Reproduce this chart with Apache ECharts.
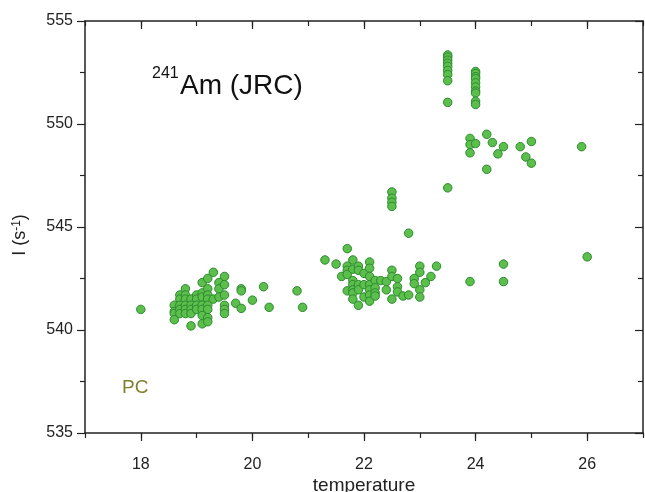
<!DOCTYPE html>
<html>
<head>
<meta charset="utf-8">
<script src="https://cdn.jsdelivr.net/npm/echarts@6/dist/echarts.min.js"></script>
<style>
  html, body { margin: 0; padding: 0; background: #fff; }
  #chart { width: 645px; height: 492px; }
</style>
</head>
<body>
<div id="chart"></div>
<script>
// tick labels of the temperature axis (one per integer, only even ones are shown)
const tempTicks = ['17', '18', '19', '20', '21', '22', '23', '24', '25', '26', '27']

// low temperature cluster (18 - 21)
const groupLow = [
  [18.0, 541.0],
  [18.6, 541.2], [18.6, 540.9], [18.6, 540.8], [18.6, 540.5],
  [18.7, 541.7], [18.7, 541.5], [18.7, 541.2], [18.7, 541.0], [18.7, 540.8],
  [18.8, 542.0], [18.8, 541.7], [18.8, 541.5], [18.8, 541.2], [18.8, 541.0], [18.8, 540.8],
  [18.9, 541.5], [18.9, 541.2], [18.9, 541.0], [18.9, 540.8], [18.9, 540.2],
  [19.0, 541.7], [19.0, 541.5], [19.0, 541.2], [19.0, 541.0],
  [19.1, 542.3], [19.1, 541.8], [19.1, 541.6], [19.1, 541.2], [19.1, 541.0], [19.1, 540.7], [19.1, 540.3],
  [19.2, 542.5], [19.2, 542.0], [19.2, 541.7], [19.2, 541.5], [19.2, 541.2], [19.2, 541.0], [19.2, 540.6], [19.2, 540.4],
  [19.3, 542.8], [19.3, 541.5],
  [19.4, 542.3], [19.4, 542.0], [19.4, 541.6],
  [19.5, 542.6], [19.5, 542.2], [19.5, 541.7], [19.5, 541.2], [19.5, 541.0], [19.5, 540.8],
  [19.7, 541.3], [19.8, 542.0], [19.8, 541.9], [19.8, 541.05],
  [20.0, 541.45], [20.2, 542.1], [20.3, 541.1], [20.8, 541.9], [20.9, 541.1]
]

// middle cluster (21 - 23.3)
const groupMid = [
  [21.3, 543.4], [21.5, 543.2], [21.6, 542.6],
  [21.7, 543.95], [21.7, 543.1], [21.7, 542.9], [21.7, 542.7], [21.7, 541.9],
  [21.8, 543.4], [21.8, 542.95], [21.8, 542.4], [21.8, 542.2], [21.8, 541.95], [21.8, 541.8], [21.8, 541.5],
  [21.9, 543.1], [21.9, 542.9], [21.9, 542.2], [21.9, 541.95], [21.9, 541.2],
  [22.0, 542.75], [22.0, 542.2], [22.0, 541.6],
  [22.1, 543.3], [22.1, 543.0], [22.1, 542.6], [22.1, 542.2], [22.1, 541.95], [22.1, 541.7], [22.1, 541.4],
  [22.2, 542.4], [22.2, 542.05], [22.2, 541.8], [22.2, 541.65],
  [22.3, 542.4], [22.4, 542.35], [22.4, 541.95],
  [22.5, 546.7], [22.5, 546.4], [22.5, 546.2], [22.5, 546.0],
  [22.5, 542.9], [22.5, 542.6], [22.5, 541.5],
  [22.6, 542.5], [22.6, 542.1], [22.6, 541.85],
  [22.7, 541.65], [22.8, 541.7], [22.8, 544.7],
  [22.9, 542.5], [22.9, 542.25],
  [23.0, 543.1], [23.0, 542.8], [23.0, 541.95], [23.0, 541.6],
  [23.1, 542.3], [23.2, 542.6], [23.3, 543.1]
]

// high temperature points (23.5 and above)
const groupHigh = [
  [23.5, 553.35], [23.5, 553.25], [23.5, 553.1], [23.5, 552.95], [23.5, 552.8],
  [23.5, 552.6], [23.5, 552.4], [23.5, 552.1], [23.5, 551.05], [23.5, 546.9],
  [24.0, 552.55], [24.0, 552.45], [24.0, 552.3], [24.0, 552.2], [24.0, 552.0],
  [24.0, 551.8], [24.0, 551.6], [24.0, 551.5], [24.0, 551.1], [24.0, 550.95],
  [23.9, 549.3], [23.9, 549.0], [23.9, 548.6], [24.0, 549.05],
  [24.2, 549.5], [24.3, 549.1], [24.4, 548.55], [24.2, 547.8],
  [24.5, 548.9], [24.8, 548.9], [24.9, 548.4], [25.0, 549.15], [25.0, 548.1], [25.9, 548.9],
  [23.9, 542.35], [24.5, 543.2], [24.5, 542.35], [26.0, 543.55]
]

const ink = '#222'
const evenTick = (i, v) => Number(v) % 2 === 0
const line = { show: true, onZero: false, lineStyle: { color: ink, width: 1.5 } }

const chart = echarts.init(document.getElementById('chart'))
chart.setOption({
  animation: false,
  textStyle: { fontFamily: 'Liberation Sans' },
  grid: { left: 85, right: 2, top: 21, bottom: 59, containLabel: false, outerBoundsMode: 'none' },
  xAxis: [
    {
      type: 'value', min: 17, max: 27, interval: 1, position: 'bottom',
      axisLine: line,
      axisTick: { length: 5, lineStyle: { color: ink, width: 1.2 } },
      axisLabel: { show: false }, splitLine: { show: false },
      name: 'temperature', nameLocation: 'middle', nameGap: 43,
      nameTextStyle: { fontSize: 19, color: ink }
    },
    {
      type: 'category', data: tempTicks, boundaryGap: false, position: 'bottom',
      axisLine: { show: false },
      axisTick: { length: 8, interval: evenTick, lineStyle: { color: ink, width: 1.2 } },
      axisLabel: { interval: evenTick, fontSize: 16, color: ink, margin: 24 }
    },
    {
      type: 'value', min: 17, max: 27, interval: 1, position: 'top',
      axisLine: line,
      axisTick: { inside: true, length: 5, lineStyle: { color: ink, width: 1.2 } },
      axisLabel: { show: false }, splitLine: { show: false }
    },
    {
      type: 'category', data: tempTicks, boundaryGap: false, position: 'top',
      axisLine: { show: false },
      axisTick: { inside: true, length: 8, interval: evenTick, lineStyle: { color: ink, width: 1.2 } },
      axisLabel: { show: false }
    }
  ],
  yAxis: [
    {
      type: 'value', min: 535, max: 555, interval: 5, position: 'left',
      axisLine: line,
      axisTick: { length: 8, lineStyle: { color: ink, width: 1.2 } },
      minorTick: { show: true, splitNumber: 2, length: 5, lineStyle: { color: ink, width: 1.2 } },
      axisLabel: { fontSize: 16, color: ink, margin: 12 },
      splitLine: { show: false },
      name: '{n|I (s}{s|-1}{n|)}', nameLocation: 'middle', nameGap: 56, nameRotate: 90,
      nameTextStyle: {
        color: ink,
        padding: [0, 16, 0, 0],
        rich: {
          n: { fontSize: 18, color: ink, fontFamily: 'Liberation Sans' },
          s: { fontSize: 12, color: ink, fontFamily: 'Liberation Sans', verticalAlign: 'top' }
        }
      }
    },
    {
      type: 'value', min: 535, max: 555, interval: 5, position: 'right',
      axisLine: line,
      axisTick: { inside: true, length: 8, lineStyle: { color: ink, width: 1.2 } },
      minorTick: { show: true, splitNumber: 2, length: 5, lineStyle: { color: ink, width: 1.2 } },
      axisLabel: { show: false }, splitLine: { show: false }
    }
  ],
  graphic: [
    { type: 'text', left: 152, top: 66, style: { text: '241', fontSize: 16, fill: '#111', fontFamily: 'Liberation Sans' } },
    { type: 'text', left: 180, top: 72, style: { text: 'Am (JRC)', fontSize: 28, fill: '#111', fontFamily: 'Liberation Sans' } },
    { type: 'text', left: 122, top: 378, style: { text: 'PC', fontSize: 19, fill: '#7f7f2e', fontFamily: 'Liberation Sans' } }
  ],
  series: [
    {
      type: 'scatter', xAxisIndex: 0, yAxisIndex: 0,
      data: [...groupLow, ...groupMid, ...groupHigh],
      symbolSize: 8.5,
      itemStyle: { color: '#5cbf4c', borderColor: '#2b8a2f', borderWidth: 1, opacity: 1 }
    }
  ]
})
</script>
</body>
</html>
